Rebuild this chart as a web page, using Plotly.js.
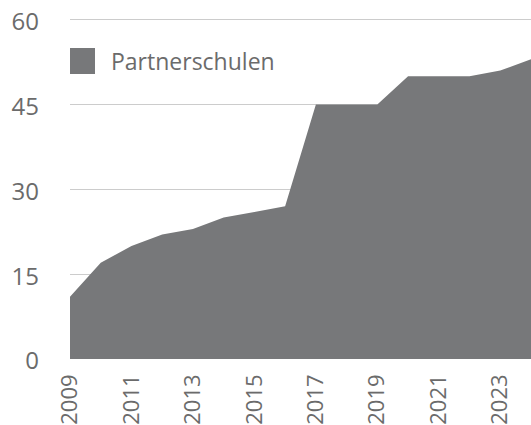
<!DOCTYPE html>
<html>
<head>
<meta charset="utf-8">
<script src="https://cdn.plot.ly/plotly-3.0.1.min.js"></script>
<style>html,body{margin:0;padding:0;background:#fff;}#chart{width:531px;height:425px;}</style>
</head>
<body>
<div id="chart"></div>
<script>
const years = [2009,2010,2011,2012,2013,2014,2015,2016,2017,2018,2019,2020,2021,2022,2023,2024];
const partnerschulen = [11,17,20,22,23,25,26,27,45,45,45,50,50,50,51,53];
const seriesName = "Partnerschulen";
const yTicks = [0,15,30,45,60];
const xTicks = [2009,2011,2013,2015,2017,2019,2021,2023];

const fillColor = "#77787a";
const textColor = "#6b6b6b";

// plot area: top 14px, bottom 359px (height 345)
const pTop = 14, pBot = 359, pH = pBot - pTop, pL = 70, pW = 461;
const py = v => (pBot - v) / pH;
const px = v => (v - pL) / pW;

const trace = {
  x: years, y: partnerschulen, type: "scatter", mode: "lines",
  fill: "tozeroy", fillcolor: fillColor, line: {color: fillColor, width: 0},
  name: seriesName, showlegend: false, hoverinfo: "x+y"
};

const layout = {
  width: 531, height: 425,
  margin: {l: pL, r: 0, t: pTop, b: 425 - pBot},
  paper_bgcolor: "#fff", plot_bgcolor: "#fff",
  font: {family: "Open Sans, sans-serif", color: textColor},
  showlegend: false,
  xaxis: {
    range: [2009, 2024], tickvals: xTicks, ticktext: xTicks.map(String),
    tickangle: -90, tickfont: {size: 22, color: textColor},
    showgrid: false, zeroline: false, showline: false, ticks: "", ticklabelstandoff: 10,
    ticklabeloverflow: "allow"
  },
  yaxis: {
    range: [0, 61], tickvals: yTicks, ticktext: yTicks.map(String),
    tickfont: {size: 24, color: textColor},
    showgrid: true, gridcolor: "#cccccc", gridwidth: 1,
    zeroline: false, showline: false, ticks: "", ticklabelstandoff: 30, ticklabelshift: 2,
    ticklabeloverflow: "allow"
  },
  shapes: [{
    type: "rect", xref: "paper", yref: "paper",
    x0: 0, x1: px(95), y0: py(48), y1: py(74),
    fillcolor: fillColor, line: {width: 0}
  }],
  annotations: [{
    xref: "paper", yref: "paper", x: px(109), y: py(61),
    xanchor: "left", yanchor: "middle", showarrow: false,
    text: seriesName, font: {size: 23, color: textColor}
  }]
};

Plotly.newPlot("chart", [trace], layout, {displayModeBar: false, staticPlot: true});
</script>
</body>
</html>
